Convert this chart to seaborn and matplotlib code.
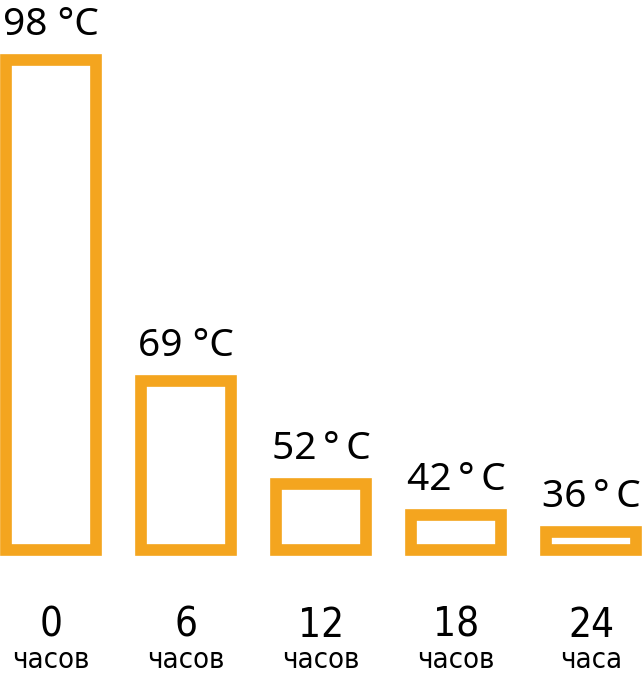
import numpy as np
import pandas as pd
import matplotlib
matplotlib.use('Agg')
import matplotlib.pyplot as plt
import seaborn as sns

# values
hours = ['0', '6', '12', '18', '24']
units = ['часов', 'часов', 'часов', 'часов', 'часа']
temp_labels = ['98 °C', '69 °C', '52\u2009°\u2009C', '42\u2009°\u2009C', '36\u2009°\u2009C']
# bar heights as drawn (relative units, first bar = 100)
bar_heights = [100, 34.6, 13.4, 7.2, 3.7]

orange = '#F4A51F'

sns.set_theme(style='white')
plt.rcParams['font.family'] = ['Noto Sans', 'DejaVu Sans']

df = pd.DataFrame({'hour': hours, 'height': bar_heights})

fig = plt.figure(figsize=(6.43, 6.76), dpi=100)
ax = fig.add_axes([0, 126 / 676, 1, 550 / 676])

sns.barplot(data=df, x='hour', y='height', ax=ax, fill=False, color=orange,
            width=0.667, linewidth=8.4, err_kws={'linewidth': 0})
for p in ax.patches:
    p.set_edgecolor(orange)
    p.set_facecolor('white')
    p.set_linewidth(8.4)
    p.set_clip_on(False)
    p.set_joinstyle('miter')

ax.set_xlim(-0.378, 4.385)
ax.set_ylim(0, 112.3)
sns.despine(ax=ax, left=True, bottom=True)
ax.set_yticks([])
ax.set_xlabel('')
ax.set_ylabel('')

narrow = ['DejaVu Sans', 'Noto Sans']
ax.set_xticks(range(len(hours)), hours)
ax.tick_params(axis='x', length=0, pad=40)
for t in ax.get_xticklabels():
    t.set_fontsize(29)
    t.set_family(narrow)
    t.set_fontstretch('condensed')
    t.set_color('black')

for i, (h, lab, u) in enumerate(zip(bar_heights, temp_labels, units)):
    ax.annotate(lab, (i, h), xytext=(0, 18), textcoords='offset points',
                ha='center', va='baseline', fontsize=28, color='black',
                annotation_clip=False)
    ax.annotate(u, (i, 0), xytext=(0, -85), textcoords='offset points',
                ha='center', va='baseline', fontsize=21, color='black',
                family=narrow, fontstretch='condensed',
                annotation_clip=False)

fig.savefig('out.png', dpi=100, facecolor='white')
